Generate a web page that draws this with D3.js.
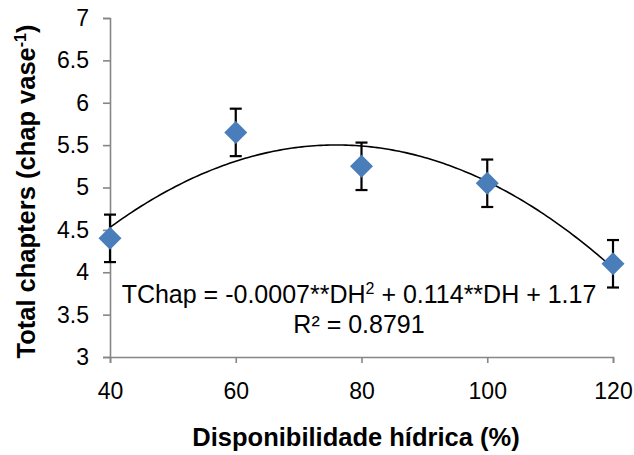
<!DOCTYPE html>
<html>
<head>
<meta charset="utf-8">
<script src="https://cdn.jsdelivr.net/npm/d3@7"></script>
<style>
  body { margin: 0; background: #fff; }
  text { font-family: "Liberation Sans", Arial, sans-serif; }
</style>
</head>
<body>
<div id="chart"></div>
<script>
// data
const waterLevels = [40, 60, 80, 100, 120];
const chapters = [4.4, 5.65, 5.25, 5.05, 4.1];
const errors = [0.28, 0.28, 0.28, 0.28, 0.28];
const xTicks = [40, 60, 80, 100, 120];
const yTicks = [3, 3.5, 4, 4.5, 5, 5.5, 6, 6.5, 7];

const margin = {top: 18, right: 21, bottom: 98, left: 110},
    width = 634 - margin.left - margin.right,
    height = 455 - margin.top - margin.bottom;

const svg = d3.select("#chart")
    .append("svg")
    .attr("width", 634)
    .attr("height", 455)
    .append("g")
    .attr("transform", `translate(${margin.left},${margin.top})`);

const x = d3.scaleLinear().domain([40, 120]).range([0, width]);
const y = d3.scaleLinear().domain([3, 7]).range([height, 0]);

// X axis
const xAxis = svg.append("g")
    .attr("transform", `translate(0, ${height})`)
    .call(d3.axisBottom(x).tickValues(xTicks).tickSize(6).tickPadding(20).tickFormat(d3.format("d")));
// Y axis
const yAxis = svg.append("g")
    .call(d3.axisLeft(y).tickValues(yTicks).tickSize(7).tickPadding(14).tickFormat(d => d));

[xAxis, yAxis].forEach(a => {
  a.select(".domain").attr("stroke", "#868686").attr("stroke-width", 1.6);
  a.selectAll(".tick line").attr("stroke", "#868686").attr("stroke-width", 1.6);
  a.selectAll(".tick text").attr("fill", "#000").style("font-size", "23px")
      .style("font-family", "'Liberation Sans', Arial, sans-serif");
});

// quadratic trend line, least squares from the points
function fitQuad(xs, ys) {
  let s = [0, 0, 0, 0, 0], t = [0, 0, 0];
  xs.forEach((xv, i) => {
    for (let k = 0; k < 5; k++) s[k] += Math.pow(xv, k);
    for (let k = 0; k < 3; k++) t[k] += Math.pow(xv, k) * ys[i];
  });
  const M = [[s[0], s[1], s[2]], [s[1], s[2], s[3]], [s[2], s[3], s[4]]];
  const det = m => m[0][0]*(m[1][1]*m[2][2]-m[1][2]*m[2][1]) - m[0][1]*(m[1][0]*m[2][2]-m[1][2]*m[2][0]) + m[0][2]*(m[1][0]*m[2][1]-m[1][1]*m[2][0]);
  const D = det(M);
  return [0, 1, 2].map(c => det(M.map((row, r) => row.map((v, j) => j === c ? t[r] : v))) / D);
}
const coef = fitQuad(waterLevels, chapters);
const curve = d3.range(40, 120.01, 0.5).map(v => [v, coef[0] + coef[1]*v + coef[2]*v*v]);
svg.append("path")
    .datum(curve)
    .attr("fill", "none")
    .attr("stroke", "#000")
    .attr("stroke-width", 1.6)
    .attr("d", d3.line().x(d => x(d[0])).y(d => y(d[1])));

// error bars
const pts = waterLevels.map((w, i) => ({w: w, v: chapters[i], e: errors[i]}));
const eb = svg.append("g").selectAll("g").data(pts).join("g");
eb.append("line")
    .attr("x1", d => x(d.w)).attr("x2", d => x(d.w))
    .attr("y1", d => y(d.v + d.e)).attr("y2", d => y(d.v - d.e))
    .attr("stroke", "#000").attr("stroke-width", 2.2);
eb.selectAll(".cap").data(d => [[d.w, d.v + d.e], [d.w, d.v - d.e]]).join("line")
    .attr("x1", d => x(d[0]) - 6).attr("x2", d => x(d[0]) + 6)
    .attr("y1", d => y(d[1])).attr("y2", d => y(d[1]))
    .attr("stroke", "#000").attr("stroke-width", 2.2);

// diamonds
svg.append("g").selectAll("path").data(pts).join("path")
    .attr("transform", d => `translate(${x(d.w)},${y(d.v)})`)
    .attr("d", "M0,-11.5L11.5,0L0,11.5L-11.5,0Z")
    .attr("fill", "#4a7ebb");

// equation
const eq = svg.append("text")
    .attr("x", 249).attr("y", 285)
    .attr("text-anchor", "middle")
    .style("font-size", "25px");
eq.append("tspan").text("TChap = -0.0007**DH");
eq.append("tspan").text("2").attr("dy", -9).style("font-size", "16px");
eq.append("tspan").text(" + 0.114**DH + 1.17").attr("dy", 9);
svg.append("text")
    .attr("x", 249).attr("y", 315)
    .attr("text-anchor", "middle")
    .style("font-size", "25px")
    .text("R² = 0.8791");

// axis titles
svg.append("text")
    .attr("x", 246).attr("y", height + 89)
    .attr("text-anchor", "middle")
    .style("font-size", "25.5px").style("font-weight", "bold")
    .text("Disponibilidade hídrica (%)");

const yt = svg.append("text")
    .attr("transform", `translate(${-75},${height / 2 + 4}) rotate(-90)`)
    .attr("text-anchor", "middle")
    .style("font-size", "25.5px").style("font-weight", "bold");
yt.append("tspan").text("Total chapters (chap vase");
yt.append("tspan").text("-1").attr("dy", -9).style("font-size", "16px");
yt.append("tspan").text(")").attr("dy", 9);
</script>
</body>
</html>
